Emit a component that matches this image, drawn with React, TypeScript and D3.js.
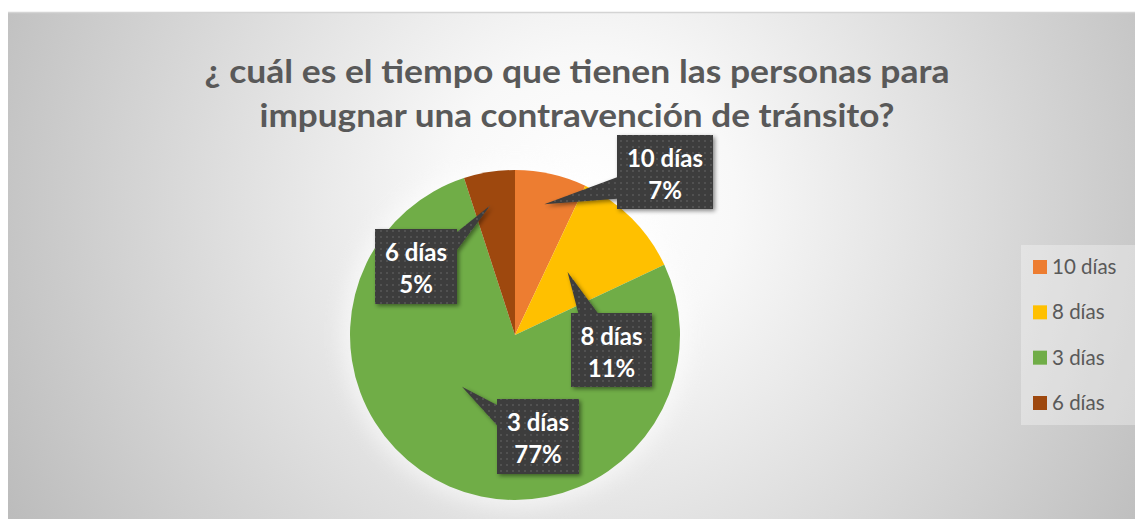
import React from "react";
import * as d3 from "d3";

const categories = ["10 días", "8 días", "3 días", "6 días"];
const values = [7, 11, 77, 5];
const colors = ["#ED7D31", "#FFC000", "#70AD47", "#9E480E"];
const titleLines = [
  "¿ cuál es el tiempo que tienen las personas para",
  "impugnar una contravención de tránsito?",
];
const titleWidths = [745, 635];

// label callout placement (layout only)
const labelLayout = [
  { x: 617, y: 135, w: 96, h: 74, side: "left", b0: 0.57, b1: 0.86, tipR: 134, tipOff: 0 },
  { x: 571, y: 313, w: 81, h: 74, side: "top", b0: 0.09, b1: 0.33, tipR: 82, tipOff: -0.09 },
  { x: 497, y: 399, w: 82, h: 75, side: "left", b0: 0.08, b1: 0.35, tipR: 74, tipOff: 0.39 },
  { x: 375, y: 229, w: 82, h: 75, side: "right", b0: 0.04, b1: 0.28, tipR: 132, tipOff: -0.03 },
];

const W = 1135;
const H = 519;
const cx = 515;
const cy = 335;
const R = 165;

export default function App() {
  const total = d3.sum(values);
  const pie = d3
    .pie<number>()
    .sort(null)
    .value((d) => d)
    .startAngle(0)
    .endAngle(2 * Math.PI);
  const arcs = pie(values);
  const arcGen = d3.arc<d3.PieArcDatum<number>>().innerRadius(0).outerRadius(R);

  const legendY = d3
    .scalePoint<string>()
    .domain(categories)
    .range([267, 403]);

  return (
    <svg
      width={W}
      height={H}
      style={{ position: "absolute", left: 0, top: 0, display: "block" }}
      fontFamily="Lato, 'Open Sans', sans-serif"
    >
      <defs>
        <radialGradient id="bg" gradientUnits="userSpaceOnUse" cx={590} cy={200} r={660}>
          <stop offset="0" stopColor="#ffffff" />
          <stop offset="0.22" stopColor="#f8f8f8" />
          <stop offset="1" stopColor="#bcbcbc" />
        </radialGradient>
        <pattern id="dots" width="6" height="6" patternUnits="userSpaceOnUse">
          <rect width="6" height="6" fill="#3d3d3d" />
          <circle cx="3" cy="3" r="0.9" fill="#5a5a5a" />
        </pattern>
        <filter id="shadow" x="-20%" y="-20%" width="150%" height="150%">
          <feDropShadow dx="2" dy="2" stdDeviation="2" floodColor="#000" floodOpacity="0.45" />
        </filter>
        <filter id="glow" x="-30%" y="-30%" width="160%" height="160%">
          <feGaussianBlur stdDeviation="10" />
        </filter>
      </defs>

      <rect x={0} y={0} width={W} height={H} fill="#ffffff" />
      <rect x={8} y={12} width={W - 8} height={H - 12} fill="url(#bg)" />
      <line x1={8} x2={W} y1={12.5} y2={12.5} stroke="#d4d4d4" strokeWidth={1.5} />

      {titleLines.map((t, i) => (
        <text
          key={i}
          x={577}
          y={83 + i * 44}
          textAnchor="middle"
          fontSize={33}
          fontWeight="bold"
          fill="#595959"
          textLength={titleWidths[i]}
          lengthAdjust="spacingAndGlyphs"
        >
          {t}
        </text>
      ))}

      <circle cx={cx} cy={cy} r={R + 8} fill="#ffffff" opacity={0.55} filter="url(#glow)" />

      <g transform={`translate(${cx},${cy})`}>
        {arcs.map((a, i) => (
          <path key={i} d={arcGen(a) || ""} fill={colors[i]} />
        ))}
      </g>

      {arcs.map((a, i) => {
        const L = labelLayout[i];
        const mid = (a.startAngle + a.endAngle) / 2 + L.tipOff;
        const tx = cx + L.tipR * Math.sin(mid);
        const ty = cy - L.tipR * Math.cos(mid);
        let pts: [number, number][] = [];
        const { x, y, w, h } = L;
        if (L.side === "left") {
          pts = [
            [x, y], [x + w, y], [x + w, y + h], [x, y + h],
            [x, y + h * L.b1], [tx, ty], [x, y + h * L.b0],
          ];
        } else if (L.side === "right") {
          pts = [
            [x, y], [x + w, y], [x + w, y + h * L.b0], [tx, ty],
            [x + w, y + h * L.b1], [x + w, y + h], [x, y + h],
          ];
        } else {
          pts = [
            [x, y], [x + w * L.b0, y], [tx, ty], [x + w * L.b1, y],
            [x + w, y], [x + w, y + h], [x, y + h],
          ];
        }
        const pct = Math.round((values[i] / total) * 100);
        return (
          <g key={i}>
            <path
              d={d3.line()(pts) + "Z"}
              fill="url(#dots)"
              filter="url(#shadow)"
            />
            <text
              x={x + w / 2}
              y={y + 32}
              textAnchor="middle"
              fontSize={24}
              fontWeight="bold"
              fill="#ffffff"
            >
              {categories[i]}
            </text>
            <text
              x={x + w / 2}
              y={y + 64}
              textAnchor="middle"
              fontSize={24}
              fontWeight="bold"
              fill="#ffffff"
            >
              {pct}%
            </text>
          </g>
        );
      })}

      <rect x={1021} y={245} width={W - 1021} height={180} fill="#ffffff" opacity={0.32} />
      {categories.map((c, i) => {
        const yy = legendY(c) || 0;
        return (
          <g key={c}>
            <rect x={1033} y={yy - 7} width={14} height={14} fill={colors[i]} />
            <text x={1052} y={yy + 7} fontSize={20.5} fill="#595959">
              {c}
            </text>
          </g>
        );
      })}
    </svg>
  );
}
